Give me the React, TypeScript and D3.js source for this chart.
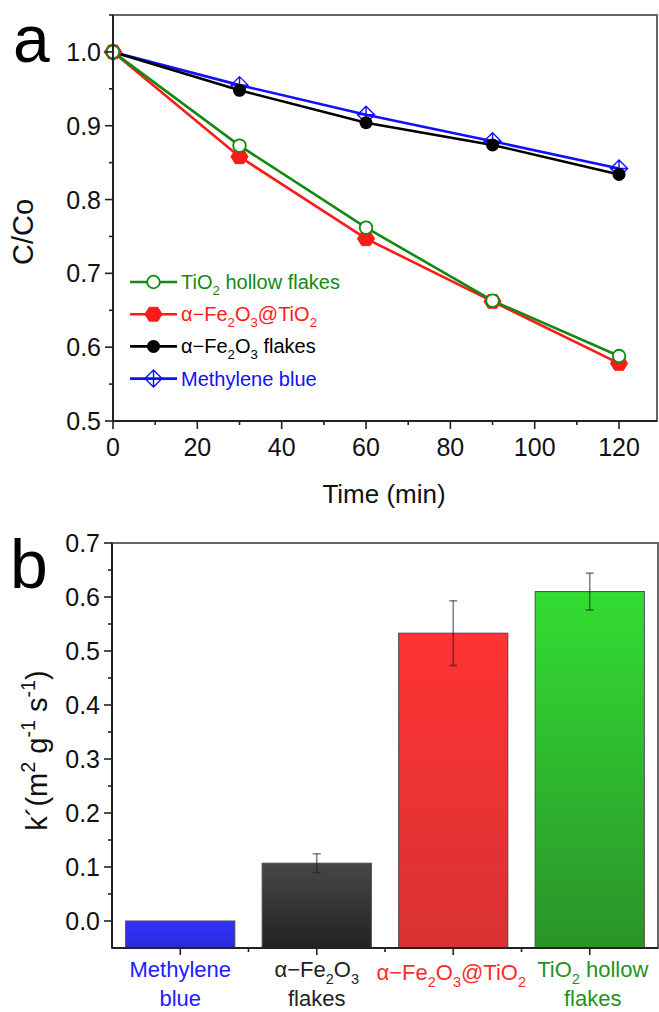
import React from 'react';
import * as d3 from 'd3';

// panel a: C/Co vs time
const times = [0, 30, 60, 90, 120];
const tio2Hollow = [1.0, 0.873, 0.762, 0.663, 0.588];
const fe2o3AtTio2 = [1.0, 0.858, 0.747, 0.662, 0.578];
const fe2o3Flakes = [1.0, 0.948, 0.904, 0.874, 0.834];
const methyleneBlue = [1.0, 0.955, 0.915, 0.879, 0.842];
const timeTicks = [0, 20, 40, 60, 80, 100, 120];
const ratioTicks = [0.5, 0.6, 0.7, 0.8, 0.9, 1.0];

// panel b: rate constants
const barKeys = ['mb', 'fe', 'fetio2', 'tio2'];
const rateValues = [0.0, 0.107, 0.533, 0.61];
const rateErrors = [0, 0.0175, 0.06, 0.034];
const rateTicks = [0.0, 0.1, 0.2, 0.3, 0.4, 0.5, 0.6, 0.7];

type Seg = { t: string; sub?: boolean; sup?: boolean };

const FONT = '"Liberation Sans", Arial, Helvetica, sans-serif';

const labelTio2: Seg[] = [{ t: 'TiO' }, { t: '2', sub: true }, { t: ' hollow flakes' }];
const labelFeTio2: Seg[] = [
  { t: 'α−Fe' }, { t: '2', sub: true }, { t: 'O' }, { t: '3', sub: true }, { t: '@TiO' }, { t: '2', sub: true },
];
const labelFe: Seg[] = [{ t: 'α−Fe' }, { t: '2', sub: true }, { t: 'O' }, { t: '3', sub: true }, { t: ' flakes' }];
const labelMb: Seg[] = [{ t: 'Methylene blue' }];

const barLabels: Seg[][][] = [
  [[{ t: 'Methylene' }], [{ t: 'blue' }]],
  [[{ t: 'α−Fe' }, { t: '2', sub: true }, { t: 'O' }, { t: '3', sub: true }], [{ t: 'flakes' }]],
  [labelFeTio2],
  [[{ t: 'TiO' }, { t: '2', sub: true }, { t: ' hollow' }], [{ t: 'flakes' }]],
];

const GREEN = '#118a11';
const RED = '#ff1a1a';
const BLUE = '#1010ff';
const BLACK = '#000';

function Rich({ segs, size }: { segs: Seg[]; size: number }) {
  return (
    <>
      {segs.map((s, i) =>
        s.sub ? (
          <tspan key={i} fontSize={size * 0.66} baselineShift={-size * 0.32}>{s.t}</tspan>
        ) : s.sup ? (
          <tspan key={i} fontSize={size * 0.68} baselineShift={size * 0.42}>{s.t}</tspan>
        ) : (
          <tspan key={i}>{s.t}</tspan>
        )
      )}
    </>
  );
}

function Marker({ kind, cx, cy, color }: { kind: string; cx: number; cy: number; color: string }) {
  if (kind === 'open') return <circle cx={cx} cy={cy} r={6.3} fill="#fff" stroke={color} strokeWidth={1.8} />;
  if (kind === 'dot') return <circle cx={cx} cy={cy} r={6.5} fill={color} />;
  if (kind === 'hex') {
    const pts = d3.range(6).map((i) => {
      const a = (Math.PI / 3) * i;
      return [cx + 8.6 * Math.cos(a), cy + 8.0 * Math.sin(a)].join(',');
    });
    return <polygon points={pts.join(' ')} fill={color} stroke={color} strokeWidth={1} />;
  }
  const r = 8.5;
  return (
    <path
      d={`M${cx},${cy - r}L${cx + r},${cy}L${cx},${cy + r}L${cx - r},${cy}Z M${cx},${cy - r}V${cy + r} M${cx - r},${cy}H${cx + r}`}
      fill="none"
      stroke={color}
      strokeWidth={1.4}
    />
  );
}

const series = [
  { name: 'mb', values: methyleneBlue, color: BLUE, marker: 'cross', label: labelMb },
  { name: 'fe', values: fe2o3Flakes, color: BLACK, marker: 'dot', label: labelFe },
  { name: 'fetio2', values: fe2o3AtTio2, color: RED, marker: 'hex', label: labelFeTio2 },
  { name: 'tio2', values: tio2Hollow, color: GREEN, marker: 'open', label: labelTio2 },
];
const legendOrder = ['tio2', 'fetio2', 'fe', 'mb'];

const barFill: Record<string, [string, string]> = {
  mb: ['#3333ff', '#2a2ad8'],
  fe: ['#474747', '#222222'],
  fetio2: ['#ff3333', '#d83232'],
  tio2: ['#33dd33', '#2a932a'],
};
const barText: Record<string, string> = { mb: '#2020ff', fe: '#222', fetio2: '#ff2a2a', tio2: '#1f931f' };

export default function App() {
  // panel a geometry
  const ax = { left: 113, right: 657, top: 15, bottom: 421 };
  const x = d3.scaleLinear().domain([0, 129]).range([ax.left, ax.right]);
  const y = d3.scaleLinear().domain([0.5, 1.05]).range([ax.bottom, ax.top]);
  const line = d3
    .line<number>()
    .x((_, i) => x(times[i]))
    .y((d) => y(d));
  const minorT = d3.range(10, 130, 20);
  const minorR = d3.range(0.55, 1.06, 0.1);

  // panel b geometry
  const bx = { left: 112, right: 658, top: 543, bottom: 948 };
  const xb = d3.scaleBand<string>().domain(barKeys).range([bx.left, bx.right]).paddingInner(0.2).paddingOuter(0.1);
  const yb = d3.scaleLinear().domain([-0.05, 0.7]).range([bx.bottom, bx.top]);
  const minorK = d3.range(0.05, 0.7, 0.1);
  const step = xb.step();

  const tickFont = 25;
  const catFont = 22;

  return (
    <svg
      width={659}
      height={1012}
      style={{ position: 'absolute', left: 0, top: 0, background: '#fff' }}
      fontFamily={FONT}
    >
      <defs>
        {barKeys.map((k) => (
          <linearGradient key={k} id={`g-${k}`} x1="0" y1="0" x2="0" y2="1">
            <stop offset="0" stopColor={barFill[k][0]} />
            <stop offset="1" stopColor={barFill[k][1]} />
          </linearGradient>
        ))}
      </defs>
      <rect width={659} height={1012} fill="#fff" />

      {/* ---------- panel a ---------- */}
      <text x={13} y={62} fontSize={66}>a</text>
      <rect x={ax.left} y={ax.top} width={ax.right - ax.left} height={ax.bottom - ax.top} fill="none" stroke="#666" strokeWidth={2} />
      {series.map((s) => (
        <path key={s.name} d={line(s.values) || ''} fill="none" stroke={s.color} strokeWidth={2.6} />
      ))}
      {series.map((s) => (
        <g key={s.name + 'm'}>
          {s.values.map((v, i) => (
            <Marker key={i} kind={s.marker} cx={x(times[i])} cy={y(v)} color={s.color} />
          ))}
        </g>
      ))}
      <line x1={ax.left} x2={ax.left} y1={ax.top} y2={ax.bottom} stroke="#222" strokeWidth={2} />
      <line x1={ax.left} x2={ax.right} y1={ax.bottom} y2={ax.bottom} stroke="#222" strokeWidth={2} />
      {ratioTicks.map((t) => (
        <g key={t}>
          <line x1={ax.left - 8} x2={ax.left} y1={y(t)} y2={y(t)} stroke="#222" strokeWidth={1.6} />
          <text x={101} y={y(t)} dy="0.36em" textAnchor="end" fontSize={tickFont} fill="#111">{t.toFixed(1)}</text>
        </g>
      ))}
      {minorR.map((t) => (
        <line key={t} x1={ax.left - 4} x2={ax.left} y1={y(t)} y2={y(t)} stroke="#222" strokeWidth={1.6} />
      ))}
      {timeTicks.map((t) => (
        <g key={t}>
          <line x1={x(t)} x2={x(t)} y1={ax.bottom} y2={ax.bottom + 8} stroke="#222" strokeWidth={1.6} />
          <text x={x(t)} y={456} textAnchor="middle" fontSize={tickFont} fill="#111">{t}</text>
        </g>
      ))}
      {minorT.map((t) => (
        <line key={t} x1={x(t)} x2={x(t)} y1={ax.bottom} y2={ax.bottom + 4} stroke="#222" strokeWidth={1.6} />
      ))}
      <text x={384} y={503} textAnchor="middle" fontSize={26} fill="#111">Time (min)</text>
      <text transform={`translate(33,${(ax.top + ax.bottom) / 2 + 14}) rotate(-90)`} textAnchor="middle" fontSize={29} fill="#111">
        C/Co
      </text>

      {/* legend */}
      {legendOrder.map((key, i) => {
        const s = series.find((d) => d.name === key)!;
        const ly = 282 + i * 32.2;
        return (
          <g key={key}>
            <line x1={130} x2={177} y1={ly} y2={ly} stroke={s.color} strokeWidth={2.6} />
            <Marker kind={s.marker} cx={153.5} cy={ly} color={s.color} />
            <text x={181} y={ly + 7} fontSize={20} fill={s.color}>
              <Rich segs={s.label} size={20} />
            </text>
          </g>
        );
      })}

      {/* ---------- panel b ---------- */}
      <text x={10} y={588} fontSize={68}>b</text>
      <rect x={bx.left} y={bx.top} width={bx.right - bx.left} height={bx.bottom - bx.top} fill="none" stroke="#666" strokeWidth={2} />
      {barKeys.map((k, i) => (
        <rect
          key={k}
          x={xb(k)}
          y={yb(rateValues[i])}
          width={xb.bandwidth()}
          height={yb(-0.05) - yb(rateValues[i])}
          fill={`url(#g-${k})`}
          stroke="#4a4a4a"
          strokeWidth={1}
        />
      ))}
      {barKeys.map((k, i) =>
        rateErrors[i] > 0 ? (
          <g key={k} stroke="rgba(30,30,30,0.55)" strokeWidth={1.6}>
            <line x1={xb(k)! + xb.bandwidth() / 2} x2={xb(k)! + xb.bandwidth() / 2} y1={yb(rateValues[i] + rateErrors[i])} y2={yb(rateValues[i] - rateErrors[i])} />
            <line x1={xb(k)! + xb.bandwidth() / 2 - 4} x2={xb(k)! + xb.bandwidth() / 2 + 4} y1={yb(rateValues[i] + rateErrors[i])} y2={yb(rateValues[i] + rateErrors[i])} />
            <line x1={xb(k)! + xb.bandwidth() / 2 - 4} x2={xb(k)! + xb.bandwidth() / 2 + 4} y1={yb(rateValues[i] - rateErrors[i])} y2={yb(rateValues[i] - rateErrors[i])} />
          </g>
        ) : null
      )}
      <line x1={bx.left} x2={bx.left} y1={bx.top} y2={bx.bottom} stroke="#222" strokeWidth={2} />
      <line x1={bx.left} x2={bx.right} y1={bx.bottom} y2={bx.bottom} stroke="#222" strokeWidth={2} />
      {rateTicks.map((t) => (
        <g key={t}>
          <line x1={bx.left - 8} x2={bx.left} y1={yb(t)} y2={yb(t)} stroke="#222" strokeWidth={1.6} />
          <text x={100} y={yb(t)} dy="0.36em" textAnchor="end" fontSize={tickFont} fill="#111">{t.toFixed(1)}</text>
        </g>
      ))}
      {minorK.map((t) => (
        <line key={t} x1={bx.left - 4} x2={bx.left} y1={yb(t)} y2={yb(t)} stroke="#222" strokeWidth={1.6} />
      ))}
      {barKeys.map((k, i) => {
        const cx = xb(k)! + xb.bandwidth() / 2;
        const lines = barLabels[i];
        return (
          <g key={k}>
            <line x1={cx} x2={cx} y1={bx.bottom} y2={bx.bottom + 7} stroke="#222" strokeWidth={1.6} />
            {i > 0 ? <line x1={cx - step / 2} x2={cx - step / 2} y1={bx.bottom} y2={bx.bottom + 4} stroke="#222" strokeWidth={1.6} /> : null}
            {lines.map((segs, j) => (
              <text
                key={j}
                x={k === 'fetio2' ? cx - 2 : k === 'tio2' ? cx + 3 : cx}
                y={lines.length === 1 ? 980 : 977 + j * 29}
                textAnchor="middle"
                fontSize={catFont}
                fill={barText[k]}
              >
                <Rich segs={segs} size={catFont} />
              </text>
            ))}
          </g>
        );
      })}
      <text transform={`translate(47,${(bx.top + bx.bottom) / 2 + 5}) rotate(-90)`} textAnchor="middle" fontSize={29} fill="#111">
        <Rich segs={[{ t: 'k´(m' }, { t: '2', sup: true }, { t: ' g' }, { t: '-1', sup: true }, { t: ' s' }, { t: '-1', sup: true }, { t: ')' }]} size={29} />
      </text>
    </svg>
  );
}
